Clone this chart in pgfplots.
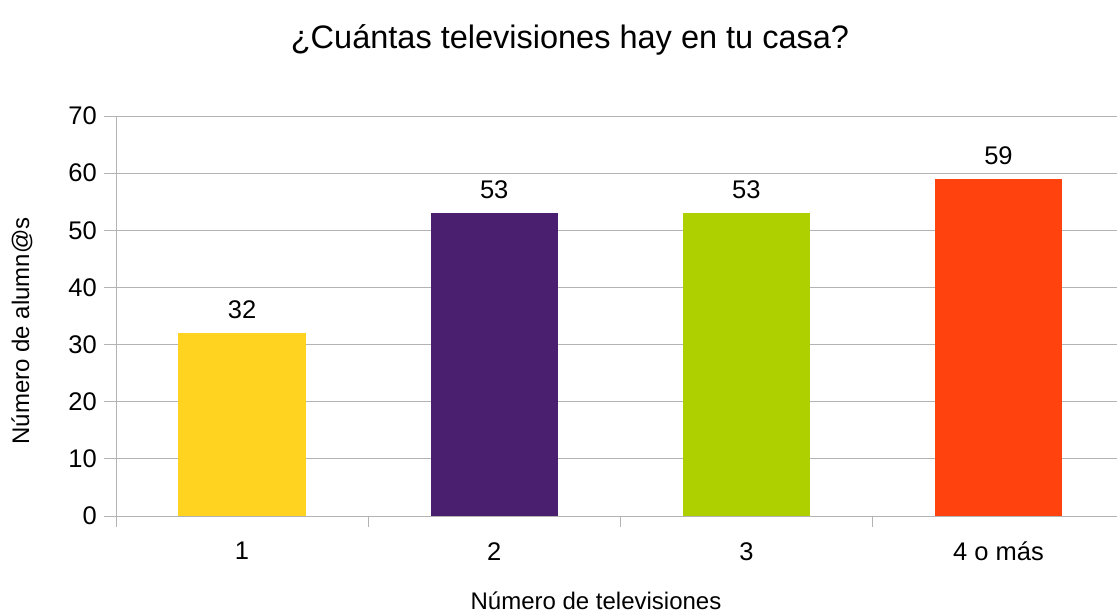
\documentclass[border=0pt]{standalone}
\usepackage{pgfplots}
\pgfplotsset{compat=1.18}
\usepackage{fontspec}
\setmainfont{Liberation Sans}

\definecolor{cyellow}{HTML}{FFD320}
\definecolor{cpurple}{HTML}{4B1F6F}
\definecolor{cgreen}{HTML}{AECF00}
\definecolor{corange}{HTML}{FF420E}
\definecolor{gridgray}{HTML}{B3B3B3}

\begin{document}
\begin{tikzpicture}
\begin{axis}[
    name=ax,
    at={(0,0)}, anchor=south west,
    scale only axis,
    width=1001bp, height=400bp,
    xmin=-0.5, xmax=3.47,
    ymin=0, ymax=70,
    ytick={0,10,...,70},
    xtick={0,1,2,3},
    xticklabels={1,2,3,4 o más},
    minor xtick={-0.5,0.5,1.5,2.5},
    major x tick style={draw=none},
    minor tick length=11bp,
    major tick length=12bp,
    tick align=outside,
    xtick pos=bottom, ytick pos=left,
    ymajorgrids,
    grid style={gridgray, line width=1bp},
    axis x line*=bottom, axis y line*=left,
    axis line style={gridgray, line width=1bp, -},
    every tick/.style={gridgray, line width=1bp},
    /pgf/number format/assume math mode=true,
    ticklabel style={font=\fontsize{25.5bp}{30bp}\selectfont},
    yticklabel style={anchor=east, inner sep=0pt, xshift=-7bp},
    xticklabel style={anchor=north, inner sep=0pt, yshift=-14bp},
    ybar, bar width=0.505, bar shift=0pt,
    nodes near coords,
    every node near coord/.append style={font=\fontsize{25.5bp}{30bp}\selectfont, anchor=south, inner sep=0pt, yshift=14bp, black},
    clip=false,
]
\addplot[fill=cyellow, draw=none] coordinates {(0,32)};
\addplot[fill=cpurple, draw=none] coordinates {(1,53)};
\addplot[fill=cgreen, draw=none] coordinates {(2,53)};
\addplot[fill=corange, draw=none] coordinates {(3,59)};
\end{axis}
\node[font=\fontsize{32.5bp}{38bp}\selectfont] at (454bp,476bp) {¿Cuántas televisiones hay en tu casa?};
\node[font=\fontsize{24bp}{29bp}\selectfont, rotate=90] at (-94bp,185bp) {Número de alumn@s};
\node[font=\fontsize{24bp}{29bp}\selectfont] at (480bp,-85bp) {Número de televisiones};
\pgfresetboundingbox
\path (-116bp,-99bp) rectangle (1003bp,516bp);
\end{tikzpicture}
\end{document}
